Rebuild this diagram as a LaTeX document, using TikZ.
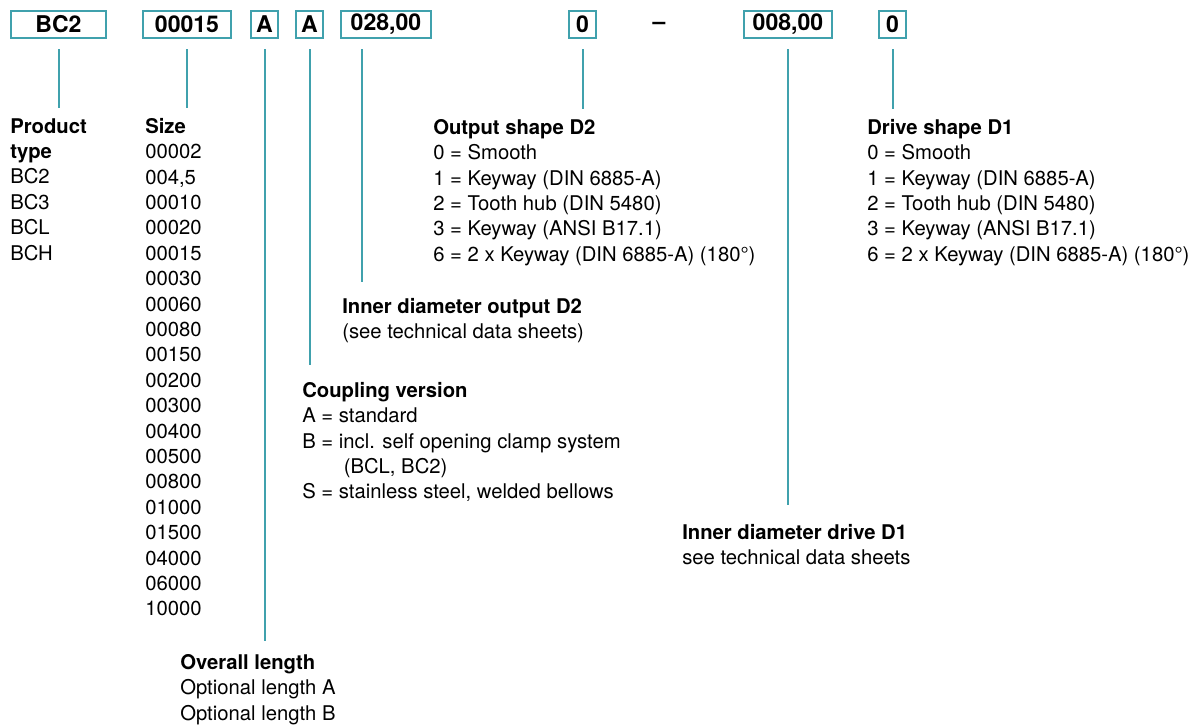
\documentclass[tikz,border=0pt]{standalone}
\usepackage{xcolor}
\usepackage{fontspec}
\setmainfont{TeX Gyre Heros}
\usepackage{tikz}
\usetikzlibrary{positioning}

\definecolor{codeteal}{RGB}{64,161,173}

\begin{document}
\begin{tikzpicture}[x=0.75pt, y=-0.75pt]
    % Define styles
    \tikzstyle{codebox} = [rectangle, draw=codeteal, line width=1.5pt, minimum height=20.25pt, inner sep=0pt, text centered, font=\bfseries\fontsize{17.3}{20}\selectfont]
    \tikzstyle{legend} = [anchor=north west, inner sep=0pt, align=left, font=\fontsize{15.2}{19.05}\selectfont]
    \tikzstyle{link} = [draw=codeteal, line width=1.5pt, shorten <=7.5pt]

    \useasboundingbox (0,0) rectangle (1191,725);

    % Code boxes
    \node[codebox, minimum width=71.25pt] (type_box) at (58.5,24.5) {BC2};
    \node[codebox, minimum width=66pt] (size_box) at (187,24.5) {00015};
    \node[codebox, minimum width=20.25pt] (length_box) at (264.5,24.5) {A};
    \node[codebox, minimum width=20.25pt] (version_box) at (309.5,24.5) {A};
    \node[codebox, minimum width=67.5pt] (bore2_box) at (386,24.5) {028,00};
    \node[codebox, minimum width=20.25pt] (shape2_box) at (582.5,24.5) {0};
    \node[font=\bfseries\fontsize{17.3}{20}\selectfont, inner sep=0pt] (dash) at (659,25.5) {\textendash};
    \node[codebox, minimum width=66pt] (bore1_box) at (788,24.5) {008,00};
    \node[codebox, minimum width=20.25pt] (shape1_box) at (892.5,24.5) {0};

    % Legends
    \node[legend] (type_txt) at (10,118) {\textbf{Product}\\\textbf{type}\\BC2\\BC3\\BCL\\BCH};
    \node[legend] (size_txt) at (145,118) {\textbf{Size}\\00002\\004,5\\00010\\00020\\00015\\00030\\00060\\00080\\00150\\00200\\00300\\00400\\00500\\00800\\01000\\01500\\04000\\06000\\10000};
    \node[legend] (length_txt) at (180,654) {\textbf{Overall length}\\Optional length A\\Optional length B};
    \node[legend] (version_txt) at (302,382) {\textbf{Coupling version}\\A = standard\\B = incl. self opening clamp system\\\hspace{2.05em}(BCL, BC2)\\S = stainless steel, welded bellows};
    \node[legend] (bore2_txt) at (342,298) {\textbf{Inner diameter output D2}\\(see technical data sheets)};
    \node[legend] (shape2_txt) at (433,119) {\textbf{Output shape D2}\\0 = Smooth\\1 = Keyway (DIN 6885-A)\\2 = Tooth hub (DIN 5480)\\3 = Keyway (ANSI B17.1)\\6 = 2 x Keyway (DIN 6885-A) (180°)};
    \node[legend] (bore1_txt) at (682,524) {\textbf{Inner diameter drive D1}\\see technical data sheets};
    \node[legend] (shape1_txt) at (867,119) {\textbf{Drive shape D1}\\0 = Smooth\\1 = Keyway (DIN 6885-A)\\2 = Tooth hub (DIN 5480)\\3 = Keyway (ANSI B17.1)\\6 = 2 x Keyway (DIN 6885-A) (180°)};

    % Connections
    \draw[link, shorten >=7.5pt] (type_box.south) -- (type_box.south |- type_txt.north);
    \draw[link, shorten >=7.5pt] (size_box.south) -- (size_box.south |- size_txt.north);
    \draw[link, shorten >=10pt] (length_box.south) -- (length_box.south |- length_txt.north);
    \draw[link, shorten >=13pt] (version_box.south) -- (version_box.south |- version_txt.north);
    \draw[link, shorten >=12pt] ([xshift=-18pt]bore2_box.south) -- ([xshift=-18pt]bore2_box.south |- bore2_txt.north);
    \draw[link, shorten >=7.5pt] (shape2_box.south) -- (shape2_box.south |- shape2_txt.north);
    \draw[link, shorten >=14pt] (bore1_box.south) -- (bore1_box.south |- bore1_txt.north);
    \draw[link, shorten >=7.5pt] (shape1_box.south) -- (shape1_box.south |- shape1_txt.north);
\end{tikzpicture}
\end{document}
